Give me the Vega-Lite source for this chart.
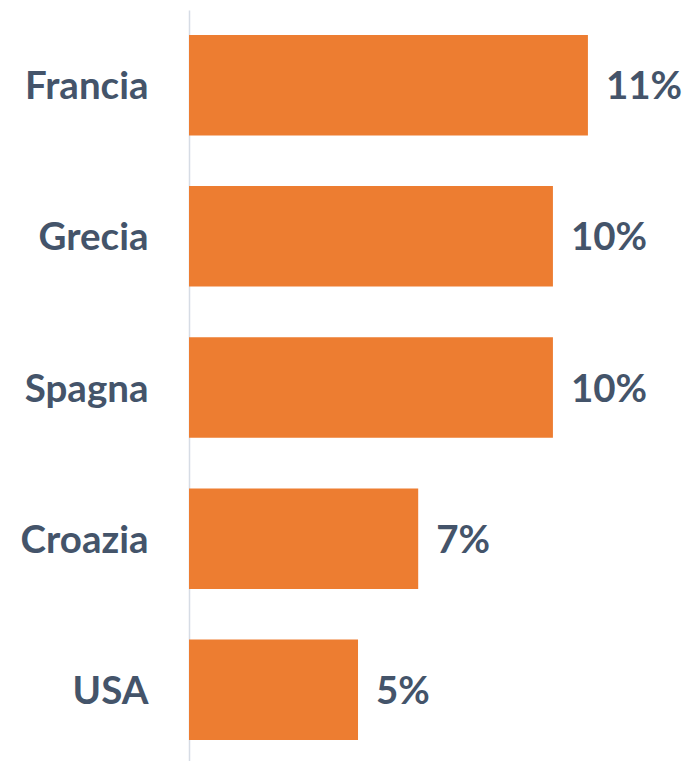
{
  "$schema": "https://vega.github.io/schema/vega-lite/v6.json",
  "autosize": {"type": "none"},
  "padding": {"left": 189, "top": 10, "right": 0, "bottom": 0},
  "width": 506,
  "height": 755,
  "background": "white",
  "config": {"view": {"stroke": null}},
  "data": {
    "values": [
      {"paese": "Francia", "valore": 11.4, "label": "11%"},
      {"paese": "Grecia", "valore": 10.4, "label": "10%"},
      {"paese": "Spagna", "valore": 10.4, "label": "10%"},
      {"paese": "Croazia", "valore": 6.55, "label": "7%"},
      {"paese": "USA", "valore": 4.83, "label": "5%"}
    ]
  },
  "encoding": {
    "y": {
      "field": "paese",
      "type": "nominal",
      "sort": null,
      "scale": {"paddingInner": 0.3355, "paddingOuter": 0.165},
      "axis": {
        "title": null,
        "ticks": false,
        "labelPadding": 41,
        "labelOffset": 2,
        "labelFont": "Lato",
        "labelFontWeight": "bold",
        "labelFontSize": 38.5,
        "labelColor": "#44546A",
        "domainColor": "#D6DCE5",
        "domainWidth": 1.5,
        "grid": false
      }
    },
    "x": {
      "field": "valore",
      "type": "quantitative",
      "scale": {"domain": [0, 14.46], "nice": false, "zero": true},
      "axis": null
    }
  },
  "layer": [
    {"mark": {"type": "bar", "color": "#ED7D31"}},
    {
      "mark": {
        "type": "text",
        "align": "left",
        "baseline": "middle",
        "dx": 18,
        "dy": 2,
        "font": "Lato",
        "fontWeight": "bold",
        "fontSize": 38.5,
        "color": "#44546A"
      },
      "encoding": {"text": {"field": "label"}}
    }
  ]
}
